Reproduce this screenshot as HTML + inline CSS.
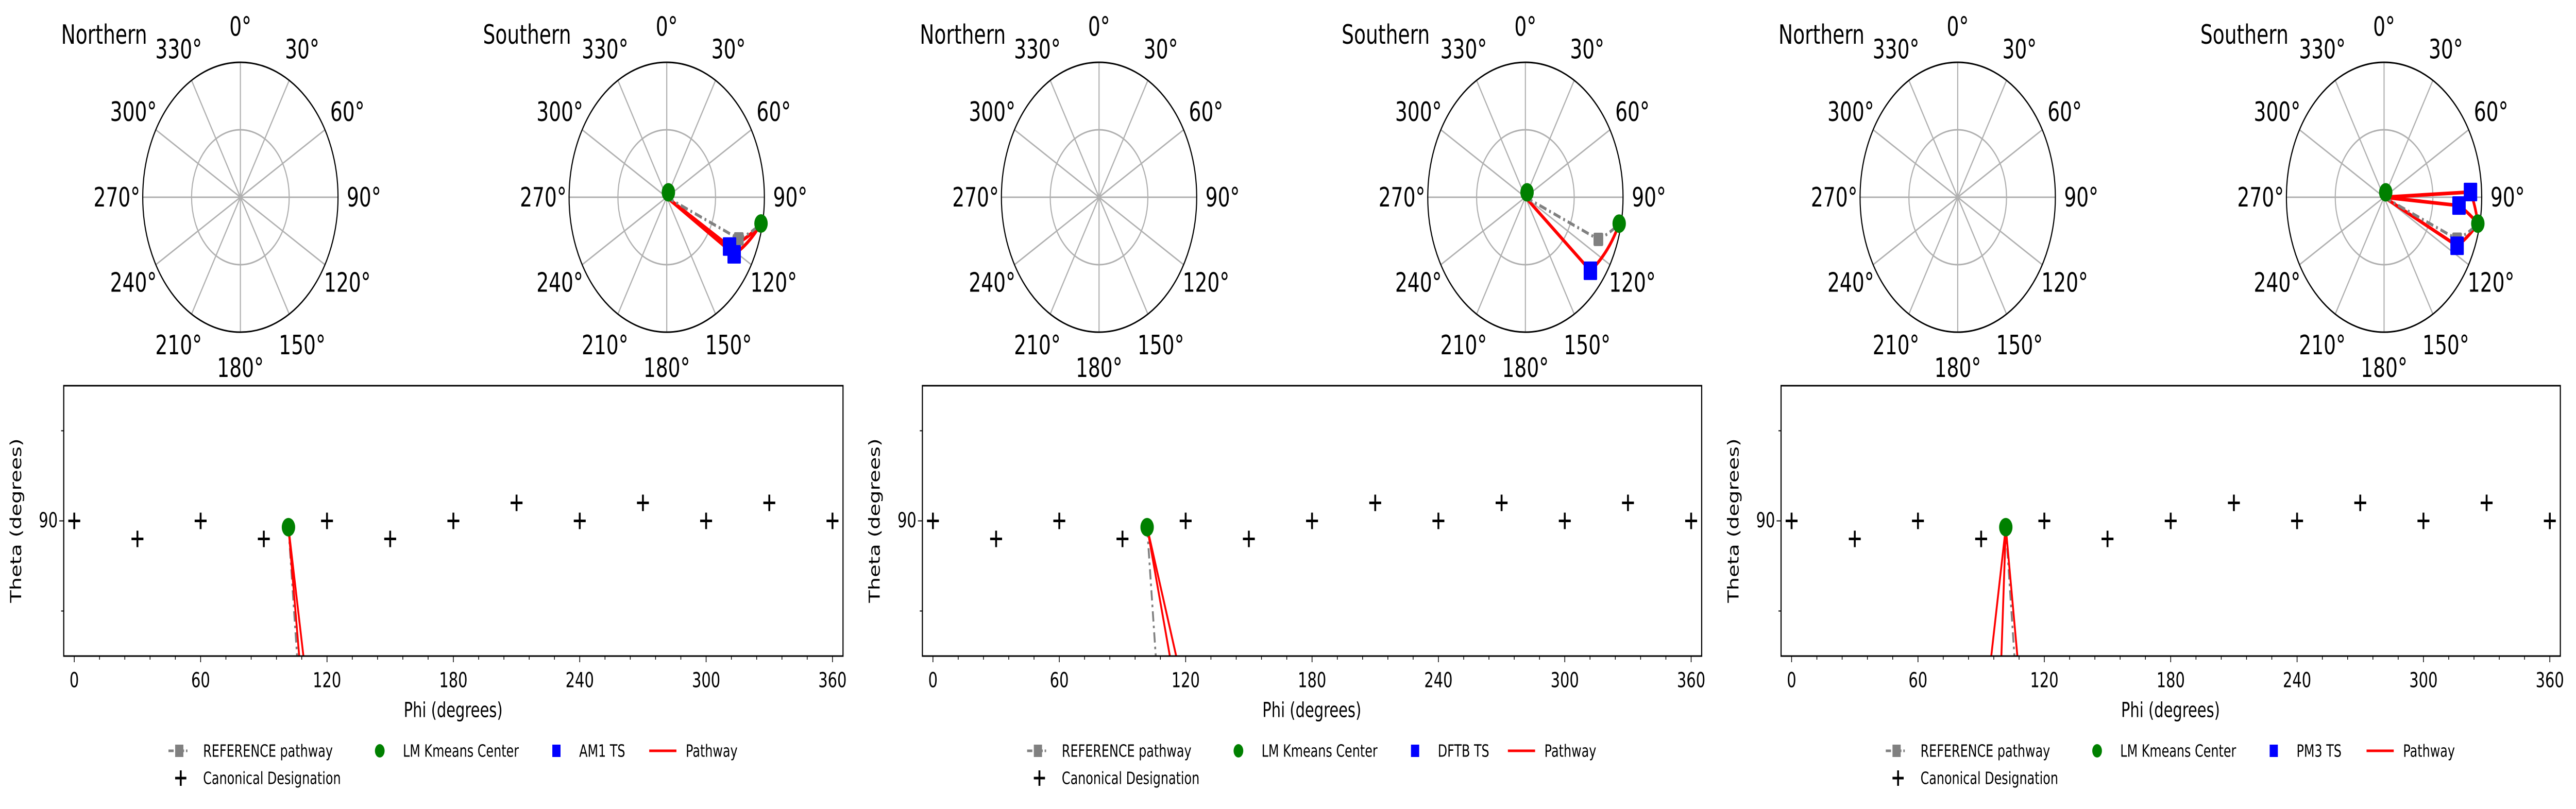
<!DOCTYPE html>
<html><head><meta charset="utf-8"><style>
html,body{margin:0;padding:0;background:#fff;width:100%;height:100%;overflow:hidden}
svg{display:block;width:100vw;height:100vh;font-family:"DejaVu Sans","Liberation Sans",sans-serif}
</style></head><body>
<svg id="fig" viewBox="0 0 6912 1571" preserveAspectRatio="none" xmlns="http://www.w3.org/2000/svg">
<defs>
<clipPath id="clipAx0"><rect x="171" y="749" width="2091" height="525"/></clipPath>
<clipPath id="clipAx1"><rect x="2475" y="749" width="2091" height="525"/></clipPath>
<clipPath id="clipAx2"><rect x="4779" y="749" width="2091" height="525"/></clipPath>
</defs>
</svg>
<script>
// ---------- data ----------
const methodNames = ["AM1 TS", "DFTB TS", "PM3 TS"];
const canonPhi = [0, 30, 60, 90, 120, 150, 180, 210, 240, 270, 300, 330, 360];
const canonTheta = [90, 86, 90, 86, 90, 86, 90, 94, 90, 94, 90, 94, 90];
const kmeansPhi = [101.7, 101.7, 101.7];
const kmeansTheta = [88.6, 88.6, 88.6];
const refEndPhi = [105.8, 105.8, 105.8];
const refEndTheta = [60, 60, 60];
const pathEndPhi = [[106.8, 108.8], [112.5, 115.5], [94.8, 99.6, 107.2]];
const pathEndTheta = [[60, 60], [60, 60], [60, 60, 60]];
const xTicks = [0, 60, 120, 180, 240, 300, 360];
const yTicks = [90];
const yMinorTicks = [70, 110];
const polarAngleTicks = [0, 30, 60, 90, 120, 150, 180, 210, 240, 270, 300, 330];
const centerKmAngle = [25, 25, 25];
const centerKmR = [0.04, 0.04, 0.04];
const edgeKmAngle = [101.4, 101.5, 101.5];
const edgeKmR = [0.985, 0.98, 0.98];
const refSqAngle = [112.7, 112.7, 112.6];
const refSqR = [0.80, 0.81, 0.81];
const tsAngle = [[119.6, 121.5], [129.3], [87.5, 94.6, 115.7]];
const tsR = [[0.74, 0.81], [0.86], [0.886, 0.77, 0.83]];

// ---------- helpers ----------
const NS = "http://www.w3.org/2000/svg";
const svg = document.getElementById("fig");
function mk(tag, attrs, parent) {
  const e = document.createElementNS(NS, tag);
  for (const k in attrs) e.setAttribute(k, attrs[k]);
  (parent || svg).appendChild(e);
  return e;
}
function txt(s, x, y, size, anchor, parent) {
  const t = mk("text", {x: x, y: y, "font-size": size, "text-anchor": anchor || "middle", "dominant-baseline": "central", fill: "#000"}, parent);
  t.textContent = s;
  return t;
}
const PW = 2304;
const R = 262;
const CY = 383;

for (let p = 0; p < 3; p++) {
  const off = p * PW;
  const g = mk("g", {});
  
  

  ["Northern", "Southern"].forEach((hemi, h) => {
    const cx = off + (h === 0 ? 645 : 1789);
    const pg = mk("g", {}, g);
    
    
    const title = txt(hemi, off + (h === 0 ? 164 : 1296), 67, 52, "start", pg);
    
    
    const P = (a, r) => [cx + r * R * Math.sin(a * Math.PI / 180), CY - r * R * Math.cos(a * Math.PI / 180)];
    polarAngleTicks.forEach(a => {
      const [x2, y2] = P(a, 1);
      const gl = mk("line", {x1: cx, y1: CY, x2: x2, y2: y2, stroke: "#b0b0b0", "stroke-width": 3}, pg);
      
      
      const [lx, ly] = P(a, 1.265);
      const lab = txt(a + "°", lx, ly, 52, "middle", pg);
      
      
    });
    const rc = mk("circle", {cx: cx, cy: CY, r: R / 2, fill: "none", stroke: "#b0b0b0", "stroke-width": 3}, pg);
    
    
    const oc = mk("circle", {cx: cx, cy: CY, r: R, fill: "none", stroke: "#000", "stroke-width": 3}, pg);
    
    

    if (h === 1) {
      const interp = (a0, r0, a1, r1) => {
        const pts = [];
        for (let i = 0; i <= 40; i++) { const t = i / 40; pts.push(P(a0 + (a1 - a0) * t, r0 + (r1 - r0) * t).join(",")); }
        return pts;
      };
      tsAngle[p].forEach((a, i) => {
        const pts = [P(a, 0).join(",")].concat(interp(a, tsR[p][i], edgeKmAngle[p], edgeKmR[p]));
        const pl = mk("polyline", {points: pts.join(" "), fill: "none", stroke: "#ff0000", "stroke-width": 7, "stroke-linejoin": "round"}, pg);
        
        
      });
      const rpts = [P(refSqAngle[p], 0).join(",")].concat(interp(refSqAngle[p], refSqR[p], edgeKmAngle[p], edgeKmR[p]));
      const rl = mk("polyline", {points: rpts.join(" "), fill: "none", stroke: "#808080", "stroke-width": 6, "stroke-dasharray": "20,8,5,8"}, pg);
      
      
      const [sx, sy] = P(refSqAngle[p], refSqR[p]);
      const rs = mk("rect", {x: sx - 13, y: sy - 13, width: 26, height: 26, rx: 3, fill: "#808080"}, pg);
      
      
      tsAngle[p].forEach((a, i) => {
        const [bx, by] = P(a, tsR[p][i]);
        const b = mk("rect", {x: bx - 18, y: by - 18, width: 36, height: 36, rx: 2, fill: "#0000ff"}, pg);
        
        
      });
      const [c1x, c1y] = P(centerKmAngle[p], centerKmR[p]);
      const k1 = mk("circle", {cx: c1x, cy: c1y, r: 18, fill: "#008000"}, pg);
      
      
      const [c2x, c2y] = P(edgeKmAngle[p], edgeKmR[p]);
      const k2 = mk("circle", {cx: c2x, cy: c2y, r: 18, fill: "#008000"}, pg);
      
      
    }
  });

  const L = off + 171, Rr = off + 2262, T = 749, B = 1274;
  const xs = v => L + (v + 5) / 370 * (Rr - L);
  const ys = v => B - (v - 60) / 60 * (B - T);
  const ax = mk("g", {}, g);
  
  
  const plot = mk("g", {"clip-path": "url(#clipAx" + p + ")"}, ax);
  canonPhi.forEach((ph, i) => {
    const x = xs(ph), y = ys(canonTheta[i]);
    const c = mk("path", {d: `M${x - 16},${y}H${x + 16}M${x},${y - 16}V${y + 16}`, stroke: "#000", "stroke-width": 5, fill: "none"}, plot);
    
    
  });
  const rl = mk("line", {x1: xs(kmeansPhi[p]), y1: ys(kmeansTheta[p]), x2: xs(refEndPhi[p]), y2: ys(refEndTheta[p]), stroke: "#808080", "stroke-width": 5, "stroke-dasharray": "20,8,5,8"}, plot);
  
  
  pathEndPhi[p].forEach((ph, i) => {
    const l = mk("line", {x1: xs(kmeansPhi[p]), y1: ys(kmeansTheta[p]), x2: xs(ph), y2: ys(pathEndTheta[p][i]), stroke: "#ff0000", "stroke-width": 5}, plot);
    
    
  });
  const km = mk("circle", {cx: xs(kmeansPhi[p]), cy: ys(kmeansTheta[p]), r: 18, fill: "#008000"}, plot);
  
  
  const fr = mk("rect", {x: L, y: T, width: Rr - L, height: B - T, fill: "none", stroke: "#000", "stroke-width": 3}, ax);
  
  
  for (let v = 0; v <= 360; v += 12) {
    const major = xTicks.indexOf(v) >= 0;
    mk("line", {x1: xs(v), y1: B, x2: xs(v), y2: B + (major ? 12 : 7), stroke: "#000", "stroke-width": 2}, ax);
  }
  xTicks.forEach(v => {
    const t = txt(String(v), xs(v), 1322, 40, "middle", ax);
    
    
  });
  yTicks.forEach(v => {
    mk("line", {x1: L, y1: ys(v), x2: L - 12, y2: ys(v), stroke: "#000", "stroke-width": 2}, ax);
    const t = txt(String(v), L - 16, ys(v), 40, "end", ax);
    
    
  });
  yMinorTicks.forEach(v => {
    mk("line", {x1: L, y1: ys(v), x2: L - 7, y2: ys(v), stroke: "#000", "stroke-width": 2}, ax);
  });
  const xl = txt("Phi (degrees)", off + 1216, 1380, 40, "middle", ax);
  
  
  const yl = txt("Theta (degrees)", 0, 0, 40, "middle", ax);
  yl.setAttribute("transform", `translate(${off + 44},1011) rotate(-90)`);
  
  

  const lg = mk("g", {}, g);
  
  
  const r1 = 1458, r2 = 1511;
  const e1 = mk("g", {}, lg);
  
  
  mk("line", {x1: off + 452, y1: r1, x2: off + 508, y2: r1, stroke: "#808080", "stroke-width": 5, "stroke-dasharray": "14,5,4,5"}, e1);
  mk("rect", {x: off + 470, y: r1 - 12, width: 22, height: 24, fill: "#808080"}, e1);
  txt("REFERENCE pathway", off + 545, r1, 33, "start", e1);
  const e2 = mk("g", {}, lg);
  
  
  mk("circle", {cx: off + 1019, cy: r1, r: 13, fill: "#008000"}, e2);
  txt("LM Kmeans Center", off + 1081, r1, 33, "start", e2);
  const e3 = mk("g", {}, lg);
  
  
  mk("rect", {x: off + 1482, y: r1 - 12, width: 22, height: 24, fill: "#0000ff"}, e3);
  txt(methodNames[p], off + 1554, r1, 33, "start", e3);
  const e4 = mk("g", {}, lg);
  
  
  mk("line", {x1: off + 1742, y1: r1, x2: off + 1815, y2: r1, stroke: "#ff0000", "stroke-width": 5}, e4);
  txt("Pathway", off + 1840, r1, 33, "start", e4);
  const e5 = mk("g", {}, lg);
  
  
  mk("path", {d: `M${off + 470},${r2}H${off + 500}M${off + 485},${r2 - 15}V${r2 + 15}`, stroke: "#000", "stroke-width": 5}, e5);
  txt("Canonical Designation", off + 545, r2, 33, "start", e5);
}
</script>
</body></html>
